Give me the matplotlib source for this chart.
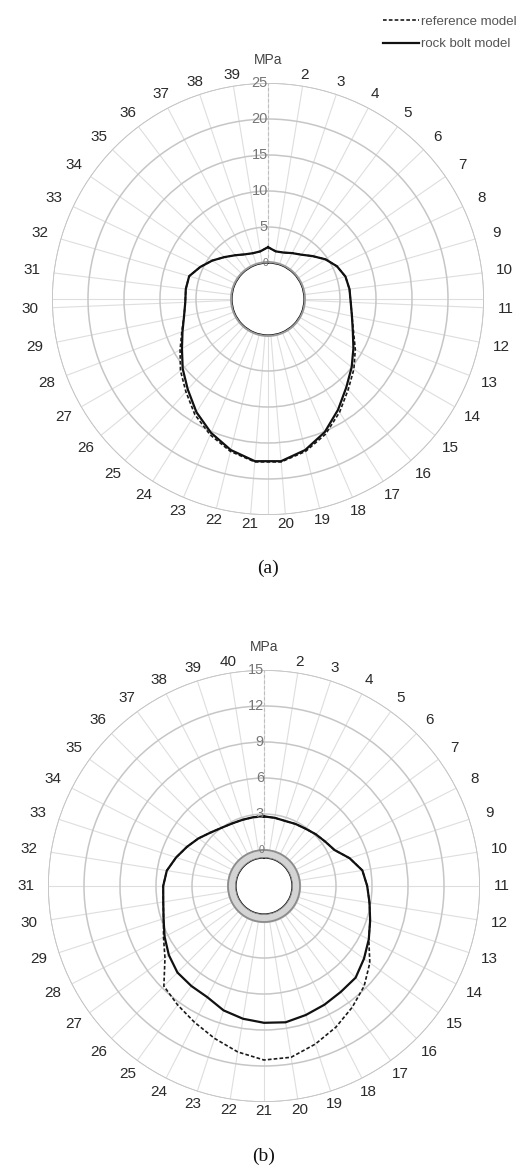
import numpy as np
import matplotlib
matplotlib.use("Agg")
import matplotlib.pyplot as plt

# ---------------- data ----------------
# (a) 39 measuring points, clockwise from the crown
a_labels = [str(i) for i in range(1, 40)]
a_bolt = [2.2, 1.7, 1.8, 2.2, 2.7, 3.6, 4.7, 5.6, 6.2, 6.4, 6.5, 6.9, 7.6, 8.7,
          10.0, 11.4, 13.2, 15.1, 16.6, 17.6, 17.6, 16.6, 15.2, 13.6, 11.8, 10.3,
          8.8, 7.7, 6.9, 6.5, 6.5, 6.4, 5.4, 4.4, 3.4, 2.6, 2.0, 1.7, 1.7]
a_ref = [2.2, 1.7, 1.8, 2.2, 2.7, 3.6, 4.7, 5.6, 6.2, 6.4, 6.5, 6.9, 7.7, 9.0,
         10.4, 11.8, 13.6, 15.4, 16.8, 17.7, 17.7, 16.8, 15.5, 14.0, 12.2, 10.7,
         9.1, 7.8, 6.9, 6.5, 6.5, 6.4, 5.4, 4.4, 3.4, 2.6, 2.0, 1.7, 1.7]
a_rticks = [0, 5, 10, 15, 20, 25]

# (b) 40 measuring points
b_labels = [str(i) for i in range(1, 41)]
b_bolt = [2.8, 2.75, 2.7, 2.8, 2.9, 3.1, 3.3, 3.6, 4.5, 5.3, 5.6, 5.9, 6.3, 6.8,
          7.3, 7.8, 7.9, 8.1, 8.3, 8.5, 8.4, 8.2, 7.9, 7.4, 7.3, 7.2, 6.8, 6.3,
          5.8, 5.5, 5.4, 5.2, 4.7, 4.2, 3.75, 3.3, 3.0, 2.85, 2.8, 2.8]
b_ref = [2.8, 2.75, 2.7, 2.8, 2.9, 3.1, 3.3, 3.6, 4.5, 5.3, 5.6, 5.9, 6.3, 6.8,
         7.9, 8.8, 9.5, 10.2, 10.85, 11.45, 11.5, 11.0, 10.35, 9.75, 9.25, 8.8,
         7.2, 6.4, 5.8, 5.5, 5.4, 5.2, 4.7, 4.2, 3.75, 3.3, 3.0, 2.85, 2.8, 2.8]
b_rticks = [0, 3, 6, 9, 12, 15]

series_names = ["reference model", "rock bolt model"]

# ---------------- style ----------------
W, H, DPI = 522, 1169, 100
RING = "#c6c6c6"
SPOKE = "#dedede"
LAB = "#2a2a2a"
NUMFONT = "Liberation Sans"

fig = plt.figure(figsize=(W / DPI, H / DPI), dpi=DPI)
fig.patch.set_facecolor("white")

R_PX = 216.0


def make_panel(cx, cy, labels, bolt, ref, rticks, liner, caption, cap_y):
    rmax = rticks[-1]
    step = rticks[1] - rticks[0]
    rorig = -step
    left = (cx - R_PX) / W
    bottom = (H - (cy + R_PX)) / H
    ax = fig.add_axes([left, bottom, 2 * R_PX / W, 2 * R_PX / H], projection="polar")
    ax.set_theta_zero_location("N")
    ax.set_theta_direction(-1)
    ax.set_rorigin(rorig)
    rmin = 0 if not liner else -step * 8.0 / 36.0
    ax.set_ylim(rmin, rmax)
    ax.set_facecolor("white")

    n = len(labels)
    th = np.deg2rad(np.arange(n) * 360.0 / n)

    # rings
    ax.set_yticks(rticks)
    ax.set_yticklabels([])
    ax.yaxis.grid(True, color=RING, lw=1.1)
    ax.set_xticks([])
    ax.xaxis.grid(False)
    for s in ax.spines.values():
        s.set_visible(False)
    full = np.linspace(0, 2 * np.pi, 400)
    ax.plot(full, np.full_like(full, rmax), color=RING, lw=1.2, zorder=1)

    # spokes
    spokes = list(th)
    if n % 4:
        spokes += list(np.deg2rad([90, 180, 270]))
    for t in spokes:
        ax.plot([t, t], [0, rmax], color=SPOKE, lw=0.8, zorder=1)
    ax.plot([0, 0], [0, rmax], color="#bdbdbd", lw=0.8, ls=(0, (3, 2)), zorder=1)

    # tunnel
    if liner:
        ax.fill_between(full, rmin, 0, color="#d4d4d4", zorder=2)
        ax.plot(full, np.full_like(full, rmin), color="#8c8c8c", lw=1.3, zorder=3)
        ax.plot(full, np.zeros_like(full), color="#8c8c8c", lw=1.3, zorder=3)
    else:
        ax.plot(full, np.zeros_like(full), color="#999999", lw=2.8, zorder=3)

    # curves
    thc = np.append(th, th[0])
    l1, = ax.plot(thc, np.append(ref, ref[0]), color="#1a1a1a", lw=1.2,
                  ls=(0, (2.2, 1.3)), zorder=4)
    l2, = ax.plot(thc, np.append(bolt, bolt[0]), color="#111111", lw=1.6, zorder=5)

    # radial tick labels
    for v in rticks:
        ax.text(0, v, str(v), ha="right", va="center", color="#777777",
                fontsize=10.5 if v else 7.5, family=NUMFONT, zorder=6)

    # angular labels
    def rdata(px):
        return rorig + px / R_PX * (rmax - rorig)

    for t, lab in zip(th, labels):
        if lab == "1":
            continue
        px = 225 + 13 * abs(np.sin(t))
        ax.text(t, rdata(px), lab, ha="center", va="center", color=LAB,
                fontsize=11, family=NUMFONT)
    ax.text(0, rdata(239), "MPa", ha="center", va="center", color="#444444",
            fontsize=10, family=NUMFONT)

    fig.text(cx / W, 1 - cap_y / H, caption, ha="center", va="center",
             fontsize=14, family="Liberation Serif", color="#111111")
    return l1, l2


h1, h2 = make_panel(268, 299, a_labels, a_bolt, a_ref, a_rticks, False, "(a)", 568)
make_panel(264, 886, b_labels, b_bolt, b_ref, b_rticks, True, "(b)", 1156)

leg = fig.legend([h1, h2], series_names, loc="upper right",
                 bbox_to_anchor=(1.0 + 6 / W, 1.0 - 4 / H), frameon=False,
                 handlelength=2.7, handletextpad=0.15,
                 labelspacing=0.75, prop={"family": NUMFONT, "size": 9.5})
for t in leg.get_texts():
    t.set_color("#555555")

fig.savefig("out.png", dpi=DPI, facecolor="white")
